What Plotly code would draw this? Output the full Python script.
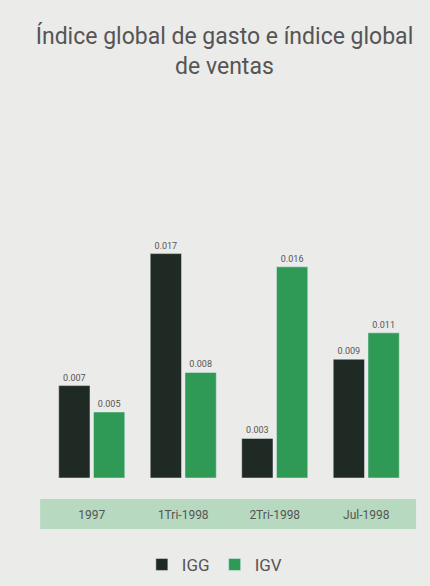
import plotly.graph_objects as go

categories = ["1997", "1Tri-1998", "2Tri-1998", "Jul-1998"]
igg = [0.007, 0.017, 0.003, 0.009]
igv = [0.005, 0.008, 0.016, 0.011]
series_names = ["IGG", "IGV"]

font_fam = "Roboto, Liberation Sans, sans-serif"
dark = "#1f2a24"
green = "#2f9a56"
bg = "#ebebe9"

fig = go.Figure()
fig.add_trace(go.Bar(x=categories, y=igg, name=series_names[0], marker_color=dark,
                     text=[f"{v:.3f}" for v in igg], textposition="outside",
                     textfont=dict(size=9, color="#555", family=font_fam),
                     cliponaxis=False))
fig.add_trace(go.Bar(x=categories, y=igv, name=series_names[1], marker_color=green,
                     text=[f"{v:.3f}" for v in igv], textposition="outside",
                     textfont=dict(size=9, color="#555", family=font_fam),
                     cliponaxis=False))

fig.add_shape(type="rect", xref="paper", yref="paper",
              x0=-0.016, x1=1.011, y0=-0.193, y1=-0.080,
              fillcolor="#b6d9c0", line_width=0, layer="below")

fig.update_layout(
    width=430, height=586,
    margin=dict(l=46, r=18, t=214, b=108, autoexpand=False),
    paper_bgcolor=bg, plot_bgcolor=bg,
    title=dict(text="Índice global de gasto e índice global<br>de ventas",
               x=0.522, xanchor="center", y=0.925, yanchor="top",
               font=dict(family=font_fam, size=23, color="#555")),
    barmode="group", bargap=0.24, bargroupgap=0.1,
    showlegend=True,
    legend=dict(orientation="h", x=0.46, xanchor="center",
                yref="container", y=0.036, yanchor="middle",
                font=dict(family=font_fam, size=17, color="#555"),
                bgcolor="rgba(0,0,0,0)", itemwidth=30),
    xaxis=dict(showgrid=False, showline=False, zeroline=False, ticks="",
               ticklabelstandoff=28,
               tickfont=dict(family=font_fam, size=12, color="#555")),
    yaxis=dict(range=[0, 0.02], visible=False),
)

fig.write_html("out.html", config={"displayModeBar": False})

with open("out.html", encoding="utf-8") as f:
    html = f.read()
html = html.replace("<head>", "<head><style>html,body{margin:0;padding:0;background:%s;overflow:hidden}</style>" % bg, 1)
with open("out.html", "w", encoding="utf-8") as f:
    f.write(html)
